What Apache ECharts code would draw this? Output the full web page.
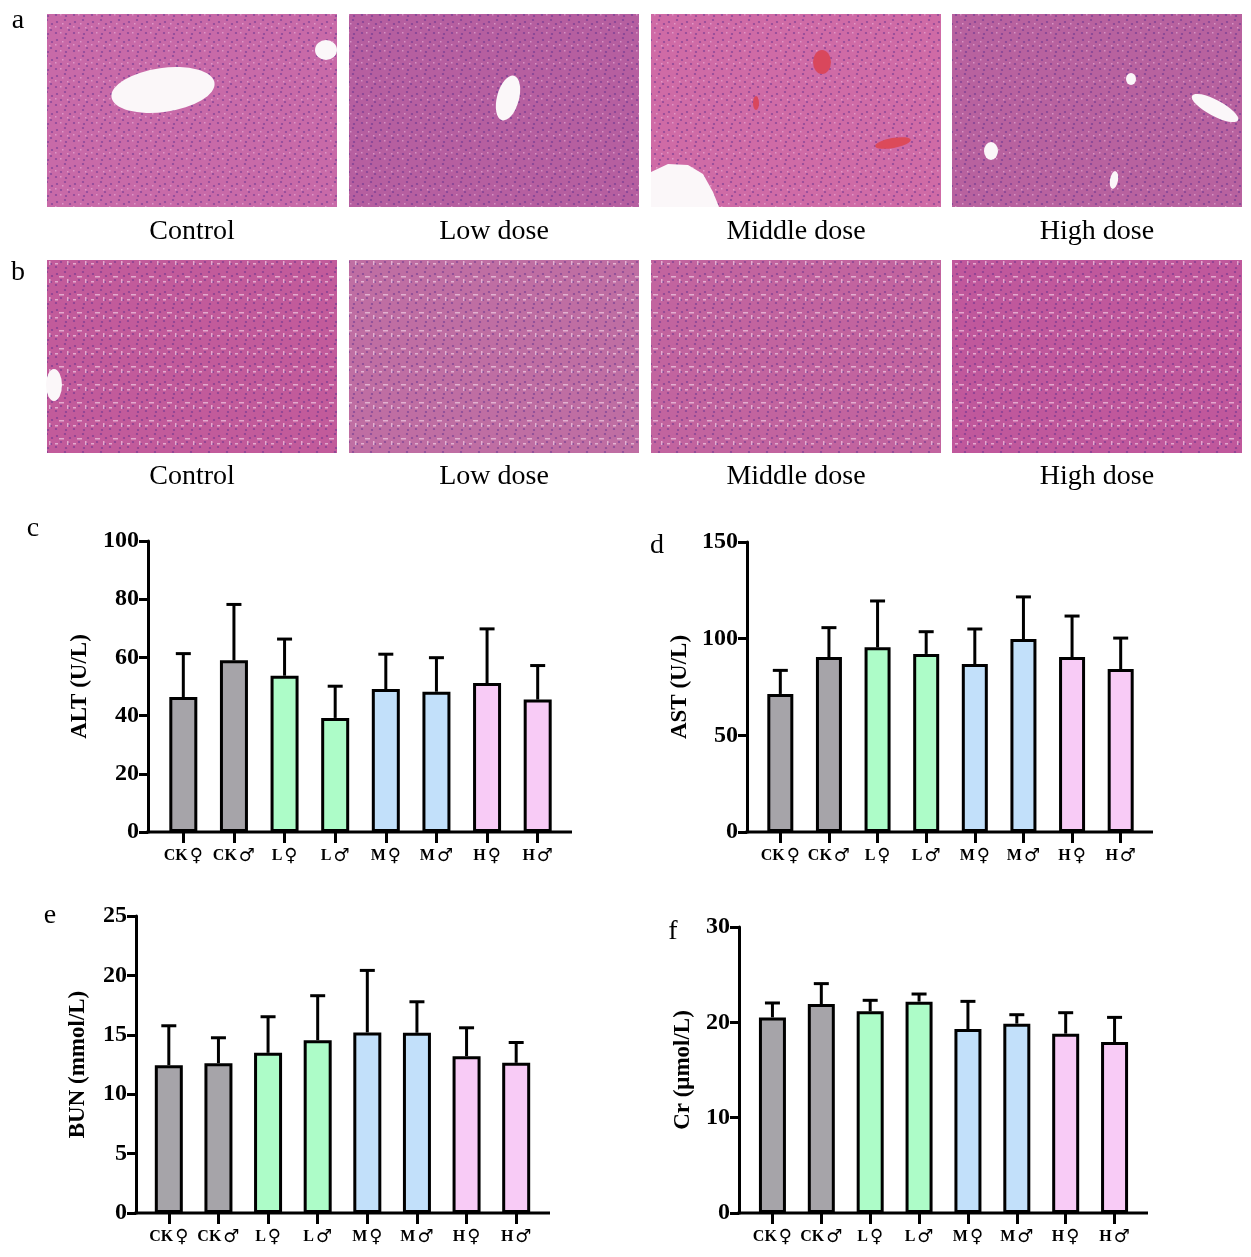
<!DOCTYPE html>
<html>
<head>
<meta charset="utf-8">
<script src="https://cdn.jsdelivr.net/npm/echarts@6/dist/echarts.min.js"></script>
<style>
html,body{margin:0;padding:0;background:#fff;}
#main{width:1251px;height:1257px;}
</style>
</head>
<body>
<div id="main"></div>
<script>
// ---------------- data ----------------
const categories = ['CK ♀', 'CK ♂', 'L ♀', 'L ♂', 'M ♀', 'M ♂', 'H ♀', 'H ♂'];
const groupLabels = ['Control', 'Low dose', 'Middle dose', 'High dose'];

const altMean = [46.4, 59.0, 53.7, 39.2, 49.1, 48.2, 51.2, 45.5];
const altSD   = [14.9, 19.2, 12.6, 10.9, 12.0, 11.7, 18.6, 11.7];

const astMean = [71.4, 90.5, 95.5, 92.1, 86.9, 99.8, 90.5, 84.3];
const astSD   = [12.2, 15.2, 24.0, 11.5, 18.1, 21.8, 21.2, 16.0];

const bunMean = [12.44, 12.61, 13.48, 14.55, 15.20, 15.17, 13.20, 12.64];
const bunSD   = [3.32, 2.14, 3.04, 3.74, 5.22, 2.61, 2.39, 1.71];

const crMean  = [20.52, 21.92, 21.15, 22.17, 19.30, 19.86, 18.81, 17.94];
const crSD    = [1.51, 2.14, 1.16, 0.80, 2.90, 0.94, 2.20, 2.58];

const altTicks = {min: 0, max: 100, interval: 20};
const astTicks = {min: 0, max: 150, interval: 50};
const bunTicks = {min: 0, max: 25, interval: 5};
const crTicks  = {min: 0, max: 30, interval: 10};

// ---------------- styles / layout ----------------
const barColors = ['#a6a4a9', '#a6a4a9', '#adfcc8', '#adfcc8', '#c2e0fa', '#c2e0fa', '#f8cbf6', '#f8cbf6'];
const SERIF = '"Liberation Serif", "Times New Roman", "DejaVu Serif", serif';

const panels = [
  {letter: 'c', lx: 33, ly: 529, name: 'ALT (U/L)', mean: altMean, sd: altSD, ticks: altTicks,
   axisX: 148, left: 158, top: 541, width: 405, height: 291, lineEnd: 572, barW: 28, nameGap: 56},
  {letter: 'd', lx: 657, ly: 546, name: 'AST (U/L)', mean: astMean, sd: astSD, ticks: astTicks,
   axisX: 747, left: 756, top: 542, width: 389, height: 290, lineEnd: 1153, barW: 26, nameGap: 55},
  {letter: 'e', lx: 50, ly: 916, name: 'BUN (mmol/L)', mean: bunMean, sd: bunSD, ticks: bunTicks,
   axisX: 136, left: 144, top: 916, width: 397, height: 297, lineEnd: 550, barW: 28, nameGap: 46},
  {letter: 'f', lx: 673, ly: 932, name: 'Cr (μmol/L)', mean: crMean, sd: crSD, ticks: crTicks,
   axisX: 739, left: 748, top: 927, width: 391, height: 286, lineEnd: 1148, barW: 27, nameGap: 44}
];

// histology image frames (placeholders for photographs)
const imgCols = [[47, 337], [349, 639], [651, 941], [952, 1242]];
const imgRows = [{top: 14, bottom: 207, labelY: 232, letter: 'a', ly: 21},
                 {top: 260, bottom: 453, labelY: 477, letter: 'b', ly: 273}];
const tissueColors = [
  ['#c86aa8', '#b65fa0', '#cf6ba6', '#b8629f'],
  ['#c25b9b', '#bf6ea3', '#c2649f', '#c0589c']
];

function makePattern(base, kidney) {
  const c = document.createElement('canvas');
  c.width = 18; c.height = 18;
  const g = c.getContext('2d');
  g.fillStyle = base; g.fillRect(0, 0, 18, 18);
  g.fillStyle = 'rgba(80,40,140,0.5)';
  [[3,4],[11,2],[7,10],[15,12],[2,15],[12,16],[16,6]].forEach(function (p) {
    g.beginPath(); g.arc(p[0], p[1], 1.1, 0, Math.PI * 2); g.fill();
  });
  g.fillStyle = kidney ? 'rgba(255,235,248,0.55)' : 'rgba(240,190,225,0.55)';
  if (kidney) {
    g.fillRect(5, 6, 5, 1.5); g.fillRect(13, 9, 1.5, 4); g.fillRect(1, 11, 3, 1.5);
  } else {
    g.fillRect(8, 5, 1.5, 1.5); g.fillRect(1, 8, 1.5, 1.5); g.fillRect(13, 9, 1.5, 1.5); g.fillRect(6, 14, 1.5, 1.5);
  }
  return {image: c, repeat: 'repeat'};
}

const graphics = [];
imgRows.forEach(function (row, r) {
  graphics.push({type: 'text', x: 18, y: row.ly, style: {text: row.letter, font: '28px ' + SERIF, fill: '#000', align: 'center', verticalAlign: 'middle'}});
  imgCols.forEach(function (col, c) {
    graphics.push({type: 'rect', shape: {x: col[0], y: row.top, width: col[1] - col[0], height: row.bottom - row.top},
      style: {fill: makePattern(tissueColors[r][c], r === 1)}, z: 1});
    graphics.push({type: 'text', x: (col[0] + col[1]) / 2, y: row.labelY,
      style: {text: groupLabels[c], font: '28px ' + SERIF, fill: '#000', align: 'center', verticalAlign: 'middle'}});
  });
});

function blob(cx, cy, rx, ry, rotDeg, fill) {
  return {type: 'circle', x: cx, y: cy, rotation: (rotDeg || 0) * Math.PI / 180, scaleX: rx / 10, scaleY: ry / 10,
    shape: {cx: 0, cy: 0, r: 10}, style: {fill: fill || '#fbf7f9'}, z: 2};
}
// liver lumens / vessels
graphics.push(blob(163, 90, 52, 22, 8));
graphics.push(blob(326, 50, 11, 10, 0));
graphics.push(blob(508, 98, 11, 23, -15));
graphics.push({type: 'polygon', shape: {points: [[651,172],[668,164],[688,165],[703,174],[713,192],[719,207],[651,207]]}, style: {fill: '#fbf7f9'}, z: 2});
graphics.push(blob(822, 62, 9, 12, 0, '#d9475c'));
graphics.push(blob(893, 143, 18, 5, 10, '#dc4a5a'));
graphics.push(blob(756, 103, 3, 7, 0, '#d9475c'));
graphics.push(blob(1131, 79, 5, 6, 0));
graphics.push(blob(1215, 108, 26, 8, -28));
graphics.push(blob(991, 151, 7, 9, 0));
graphics.push(blob(1114, 180, 4, 9, -10));
// kidney white spaces
graphics.push(blob(54, 385, 8, 16, 0));

// panel letters and x-axis lines
panels.forEach(function (p) {
  graphics.push({type: 'text', x: p.lx, y: p.ly, style: {text: p.letter, font: '28px ' + SERIF, fill: '#000', align: 'center', verticalAlign: 'middle'}});
  const yb = p.top + p.height;
  graphics.push({type: 'line', shape: {x1: p.axisX - 1.5, y1: yb, x2: p.lineEnd, y2: yb}, style: {stroke: '#000', lineWidth: 3}, z: 10});
});

function errRender(params, api) {
  const x = api.value(0), m = api.value(1), h = api.value(2);
  const p0 = api.coord([x, m]);
  const p1 = api.coord([x, h]);
  const cap = 7.5;
  return {type: 'group', children: [
    {type: 'line', shape: {x1: p0[0], y1: p0[1], x2: p1[0], y2: p1[1]}, style: {stroke: '#000', lineWidth: 3}},
    {type: 'line', shape: {x1: p1[0] - cap, y1: p1[1], x2: p1[0] + cap, y2: p1[1]}, style: {stroke: '#000', lineWidth: 3}}
  ]};
}

function catLabel(v) {
  const parts = v.split(' ');
  return '{a|' + parts[0] + '}{sp| }{s|' + parts[1] + '}';
}

const grids = [], xAxes = [], yAxes = [], series = [];
panels.forEach(function (p, i) {
  grids.push({left: p.left, top: p.top, width: p.width, height: p.height, containLabel: false});
  xAxes.push({type: 'category', gridIndex: i, data: categories, boundaryGap: true,
    axisLine: {show: false},
    axisTick: {show: true, alignWithLabel: true, length: 11, lineStyle: {color: '#000', width: 3}},
    axisLabel: {color: '#000', margin: 15, interval: 0, formatter: catLabel,
      rich: {
        a: {fontFamily: SERIF, fontWeight: 'bold', fontSize: 16, color: '#000'},
        sp: {fontFamily: SERIF, fontSize: 8},
        s: {fontFamily: '"DejaVu Sans", sans-serif', fontWeight: 'bold', fontSize: 18, color: '#000'}
      }}
  });
  yAxes.push({type: 'value', gridIndex: i, min: p.ticks.min, max: p.ticks.max, interval: p.ticks.interval,
    offset: p.left - p.axisX,
    name: p.name, nameLocation: 'middle', nameGap: p.nameGap,
    nameTextStyle: {color: '#000', fontFamily: SERIF, fontWeight: 'bold', fontSize: 23},
    axisLine: {show: true, lineStyle: {color: '#000', width: 3}},
    axisTick: {show: true, length: 9, lineStyle: {color: '#000', width: 3}},
    axisLabel: {color: '#000', fontFamily: SERIF, fontWeight: 'bold', fontSize: 24, margin: 9},
    splitLine: {show: false}
  });
  series.push({type: 'bar', xAxisIndex: i, yAxisIndex: i, barWidth: p.barW,
    data: p.mean.map(function (v, k) { return {value: v, itemStyle: {color: barColors[k]}}; }),
    itemStyle: {borderColor: '#000', borderWidth: 3}, z: 3, animation: false
  });
  series.push({type: 'custom', xAxisIndex: i, yAxisIndex: i, renderItem: errRender,
    encode: {x: 0, y: [1, 2]},
    data: p.mean.map(function (v, k) { return [k, v, v + p.sd[k]]; }), z: 4, animation: false
  });
});

const chart = echarts.init(document.getElementById('main'));
chart.setOption({
  backgroundColor: '#fff',
  animation: false,
  grid: grids,
  xAxis: xAxes,
  yAxis: yAxes,
  series: series,
  graphic: graphics
});
</script>
</body>
</html>
